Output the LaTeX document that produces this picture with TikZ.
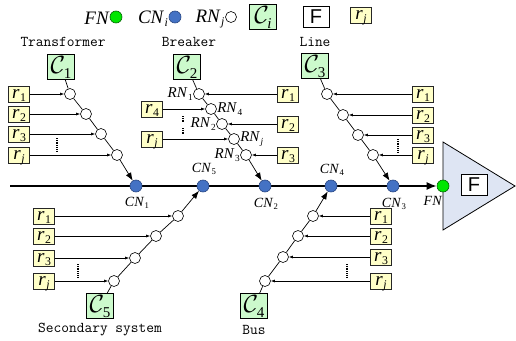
\documentclass[tikz,border=0pt]{standalone}
\usepackage{fontspec}
\setmainfont{Liberation Serif}
\newfontfamily\sansF{Liberation Sans}
\usetikzlibrary{arrows.meta}
\definecolor{cnblue}{RGB}{68,114,196}
\definecolor{cnedge}{RGB}{40,70,130}
\definecolor{fngreen}{RGB}{0,230,0}
\definecolor{cgreen}{RGB}{204,250,204}
\definecolor{ryellow}{RGB}{255,255,200}
\definecolor{triblue}{RGB}{222,229,243}
\pgfdeclarelayer{bg}
\pgfsetlayers{bg,main}
\newcommand{\lab}[2]{\textit{#1}\kern0.5pt\raisebox{-0.35ex}{\fontsize{0.62\dimexpr\fontdimen6\font\relax}{0pt}\selectfont #2}}
\newcommand{\Cl}[1]{$\mathcal{C}$\kern-1.5pt\raisebox{-0.45ex}{\fontsize{15}{15}\selectfont #1}}
\begin{document}
\begin{tikzpicture}[x=1pt,y=-1pt,
  rn/.style={circle,draw,fill=white,minimum size=11pt,inner sep=0pt,line width=0.6pt},
  cn/.style={circle,draw=cnedge,fill=cnblue,minimum size=12pt,inner sep=0pt,line width=0.6pt},
  fn/.style={circle,draw=green!40!black,fill=fngreen,minimum size=12pt,inner sep=0pt,line width=0.6pt},
  rbox/.style={draw=black!85,fill=ryellow,minimum width=21pt,minimum height=16pt,inner sep=0pt,line width=0.8pt,text height=11pt,text depth=3pt,font=\fontsize{19}{19}\selectfont},
  cbox/.style={draw,fill=cgreen,minimum width=27pt,minimum height=25pt,inner sep=0pt,line width=0.8pt,text height=16pt,text depth=3pt,font=\fontsize{24}{24}\selectfont},
  fbox/.style={draw,fill=white,minimum width=26pt,minimum height=21pt,inner sep=0pt,line width=0.8pt,font=\sansF\fontsize{20}{20}\selectfont},
  cat/.style={font=\ttfamily\fontsize{15}{15}\selectfont,inner sep=0pt},
  lbl/.style={font=\fontsize{14}{14}\selectfont,inner sep=0.5pt},
  rnl/.style={font=\fontsize{15}{15}\selectfont,inner sep=0.3pt},
  leg/.style={font=\fontsize{19}{19}\selectfont,inner sep=0pt},
  chain/.style={line width=0.7pt},
  bigarrow/.style={line width=0.7pt,-{Latex[length=8pt,width=6pt]}},
  inarrow/.style={line width=0.6pt,-{Latex[length=4pt,width=3pt]}},
  mainline/.style={line width=1.6pt,-{Latex[length=10pt,width=8pt]}},
  vdots/.style={line width=1.2pt,dash pattern=on 0.8pt off 1pt}
]
\useasboundingbox (0,0) rectangle (516,340);

% legend
\node[leg] (lFN) at (97,18) {\textit{FN}};
\node[fn] (lfn) at (116,17) {};
\node[leg] (lCN) at (153,19) {\lab{CN}{\textit{i}}};
\node[cn] (lcn) at (175,17) {};
\node[leg] (lRN) at (210,19) {\lab{RN}{\textit{j}}};
\node[rn] (lrn) at (231,17) {};
\node[cbox] (lC) at (263,17) {\Cl{\textit{i}}};
\node[fbox] (lF) at (316,17) {F};
\node[rbox] (lr) at (361,15) {\lab{r}{\textit{j}}};

% category labels and boxes
\node[cat] (tT) at (63,42) {Transformer};
\node[cat] (tB) at (189,42) {Breaker};
\node[cat] (tL) at (315,42) {Line};
\node[cat] (tS) at (100,330) {Secondary system};
\node[cat] (tU) at (254,330) {Bus};
\node[cbox] (C1) at (61,67) {\Cl{1}};
\node[cbox] (C2) at (187,67) {\Cl{2}};
\node[cbox] (C3) at (315,66) {\Cl{3}};
\node[cbox] (C5) at (100,306) {\Cl{5}};
\node[cbox] (C4) at (254,306) {\Cl{4}};

% connection nodes
\node[cn] (CN1) at (136,186) {};
\node[cn] (CN5) at (203,186) {};
\node[cn] (CN2) at (265,186) {};
\node[cn] (CN4) at (331,186) {};
\node[cn] (CN3) at (393,186) {};
\node[fn] (FN) at (443,186) {};
\node[lbl] (lCN1) at (137,203) {\lab{CN}{1}};
\node[lbl] (lCN5) at (204,169) {\lab{CN}{5}};
\node[lbl] (lCN2) at (266,204) {\lab{CN}{2}};
\node[lbl] (lCN4) at (332,170) {\lab{CN}{4}};
\node[lbl] (lCN3) at (394,204) {\lab{CN}{3}};

% Transformer chain
\node[rn] (a1) at (70,94) {};
\node[rn] (a2) at (86,114) {};
\node[rn] (a3) at (101,134) {};
\node[rn] (a4) at (117,155) {};
\node[rbox] (ar1) at (19,94) {\lab{r}{1}};
\node[rbox] (ar2) at (19,114) {\lab{r}{2}};
\node[rbox] (ar3) at (19,134) {\lab{r}{3}};
\node[rbox] (ar4) at (19,155) {\lab{r}{\textit{j}}};
\draw[chain] (C1) -- (a1) -- (a2) -- (a3) -- (a4);
\draw[bigarrow] (a4) -- (CN1);
\foreach \i in {1,...,4} \draw[inarrow] (ar\i) -- (a\i);
\coordinate (ad1) at (57,138); \coordinate (ad2) at (57,152);
\draw[vdots] (ad1) -- (ad2);

% Breaker chain
\node[rn] (b1) at (199,94) {};
\node[rn] (b2) at (211,109) {};
\node[rn] (b3) at (222,124) {};
\node[rn] (b4) at (234,139) {};
\node[rn] (b5) at (246,155) {};
\node[rnl,anchor=east] (lb1) at (b1.west) {\lab{RN}{1}};
\node[rnl,anchor=west] (lb2) at (b2.east) {\lab{RN}{4}};
\node[rnl,anchor=east] (lb3) at (b3.west) {\lab{RN}{2}};
\node[rnl,anchor=west] (lb4) at (b4.east) {\lab{RN}{\textit{j}}};
\node[rnl,anchor=east] (lb5) at (b5.west) {\lab{RN}{3}};
\node[rbox] (br1) at (288,94) {\lab{r}{1}};
\node[rbox] (br2) at (152,109) {\lab{r}{4}};
\node[rbox] (br3) at (288,124) {\lab{r}{2}};
\node[rbox] (br4) at (152,139) {\lab{r}{\textit{j}}};
\node[rbox] (br5) at (288,155) {\lab{r}{3}};
\draw[chain] (C2) -- (b1) -- (b2) -- (b3) -- (b4) -- (b5);
\draw[bigarrow] (b5) -- (CN2);
\foreach \i in {1,...,5} \draw[inarrow] (br\i) -- (b\i);
\coordinate (bd1) at (183,116); \coordinate (bd2) at (183,122);
\coordinate (bd3) at (183,128); \coordinate (bd4) at (183,134);
\draw[vdots] (bd1) -- (bd2);
\draw[vdots] (bd3) -- (bd4);

% Line chain
\node[rn] (c1) at (327,94) {};
\node[rn] (c2) at (343,115) {};
\node[rn] (c3) at (358,135) {};
\node[rn] (c4) at (373,155) {};
\node[rbox] (cr1) at (423,94) {\lab{r}{1}};
\node[rbox] (cr2) at (423,115) {\lab{r}{2}};
\node[rbox] (cr3) at (423,135) {\lab{r}{3}};
\node[rbox] (cr4) at (423,155) {\lab{r}{\textit{j}}};
\draw[chain] (C3) -- (c1) -- (c2) -- (c3) -- (c4);
\draw[bigarrow] (c4) -- (CN3);
\foreach \i in {1,...,4} \draw[inarrow] (cr\i) -- (c\i);
\coordinate (cd1) at (398,139); \coordinate (cd2) at (398,153);
\draw[vdots] (cd1) -- (cd2);

% Secondary system chain
\node[rn] (s1) at (178,216) {};
\node[rn] (s2) at (156,236) {};
\node[rn] (s3) at (135,258) {};
\node[rn] (s4) at (114,281) {};
\node[rbox] (sr1) at (44,216) {\lab{r}{1}};
\node[rbox] (sr2) at (44,236) {\lab{r}{2}};
\node[rbox] (sr3) at (44,258) {\lab{r}{3}};
\node[rbox] (sr4) at (44,281) {\lab{r}{\textit{j}}};
\draw[chain] (C5) -- (s4) -- (s3) -- (s2) -- (s1);
\draw[bigarrow] (s1) -- (CN5);
\foreach \i in {1,...,4} \draw[inarrow] (sr\i) -- (s\i);
\coordinate (sd1) at (78,264); \coordinate (sd2) at (78,278);
\draw[vdots] (sd1) -- (sd2);

% Bus chain
\node[rn] (u1) at (313,216) {};
\node[rn] (u2) at (298,236) {};
\node[rn] (u3) at (283,257) {};
\node[rn] (u4) at (265,281) {};
\node[rbox] (ur1) at (381,216) {\lab{r}{1}};
\node[rbox] (ur2) at (381,236) {\lab{r}{2}};
\node[rbox] (ur3) at (381,257) {\lab{r}{3}};
\node[rbox] (ur4) at (381,281) {\lab{r}{\textit{j}}};
\draw[chain] (C4) -- (u4) -- (u3) -- (u2) -- (u1);
\draw[bigarrow] (u1) -- (CN4);
\foreach \i in {1,...,4} \draw[inarrow] (ur\i) -- (u\i);
\coordinate (ud1) at (347,264); \coordinate (ud2) at (347,278);
\draw[vdots] (ud1) -- (ud2);

% fault triangle
\node[fbox] (FF) at (474,185) {F};
\coordinate (start) at (10,186);
\coordinate (t1) at (443,142);
\coordinate (t2) at (515,186);
\coordinate (t3) at (443,230);
\begin{pgfonlayer}{bg}
\node[lbl] (lFNt) at (433,201) {\textit{FN}};
\draw[fill=triblue,line width=0.8pt] (t1) -- (t2) -- (t3) -- cycle;
\draw[mainline] (start) -- (FN);
\end{pgfonlayer}
\end{tikzpicture}
\end{document}
